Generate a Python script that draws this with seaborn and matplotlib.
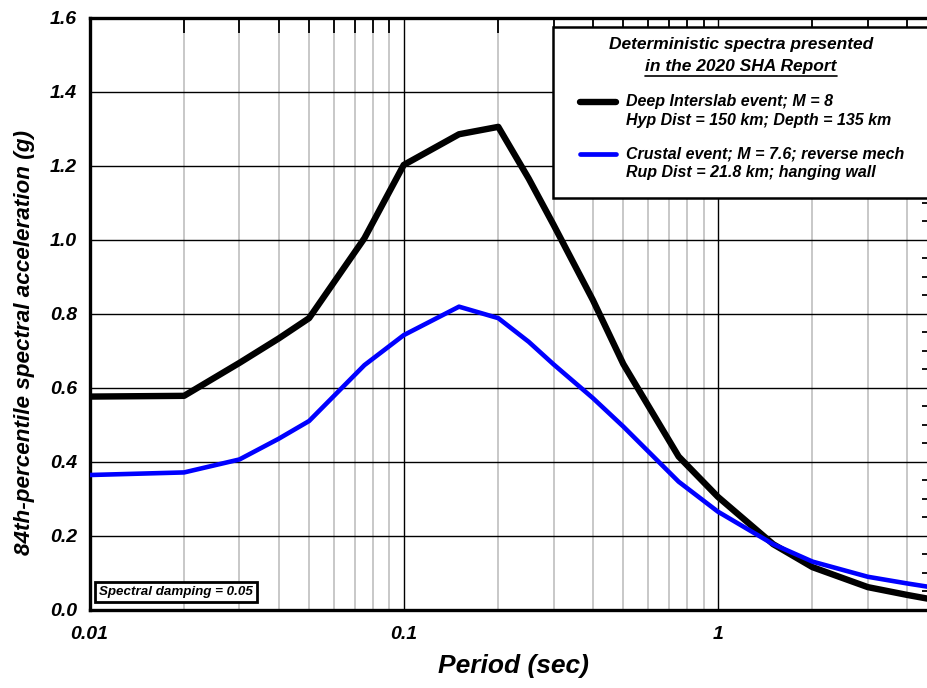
import numpy as np
import pandas as pd
import matplotlib
matplotlib.use("Agg")
import matplotlib.pyplot as plt
import seaborn as sns
from matplotlib.lines import Line2D
from matplotlib.patches import Rectangle
from matplotlib.ticker import FixedLocator, NullFormatter, MultipleLocator

sns.set_style("white")
plt.rcParams['font.family'] = ['Liberation Sans', 'DejaVu Sans']
plt.rcParams['font.weight'] = 'bold'
plt.rcParams['font.style'] = 'italic'
for k in ['text.color', 'axes.labelcolor', 'xtick.color', 'ytick.color']:
    plt.rcParams[k] = 'black'

# ============================================================
# data
# ============================================================
period = [0.01, 0.02, 0.03, 0.04, 0.05, 0.075, 0.1, 0.15, 0.2, 0.25,
          0.3, 0.4, 0.5, 0.75, 1.0, 1.5, 2.0, 3.0, 4.0, 5.0]
sa_interslab = [0.576, 0.578, 0.667, 0.733, 0.788, 1.004, 1.202, 1.285, 1.305, 1.165,
                1.040, 0.837, 0.664, 0.414, 0.305, 0.177, 0.115, 0.061, 0.040, 0.025]
sa_crustal = [0.364, 0.371, 0.406, 0.462, 0.510, 0.661, 0.742, 0.819, 0.788, 0.724,
              0.663, 0.572, 0.495, 0.346, 0.265, 0.177, 0.130, 0.089, 0.071, 0.058]

lbl_interslab = ["Deep Interslab event; M = 8", "Hyp Dist = 150 km; Depth = 135 km"]
lbl_crustal = ["Crustal event; M = 7.6; reverse mech", "Rup Dist = 21.8 km; hanging wall"]
legend_title = ["Deterministic spectra presented", "in the 2020 SHA Report"]

x_ticks = [0.01, 0.1, 1]
x_ticklabels = ['0.01', '0.1', '1']
y_ticks = [0.0, 0.2, 0.4, 0.6, 0.8, 1.0, 1.2, 1.4, 1.6]
y_ticklabels = ['0.0', '0.2', '0.4', '0.6', '0.8', '1.0', '1.2', '1.4', '1.6']

df = pd.DataFrame({
    'period': period * 2,
    'sa': sa_interslab + sa_crustal,
    'event': ['interslab'] * len(period) + ['crustal'] * len(period),
})

# ============================================================
# plot
# ============================================================
fig = plt.figure(figsize=(9.27, 6.88), dpi=100)
ax = fig.add_axes([89.5 / 927, 78.3 / 688, 848 / 927, 592 / 688])

sns.lineplot(data=df, x='period', y='sa', hue='event',
             palette={'interslab': 'black', 'crustal': '#0000ff'},
             size='event', sizes={'interslab': 4.6, 'crustal': 3.3},
             legend=False, ax=ax, zorder=5)

ax.set_xscale('log')
ax.set_xlim(0.01, 5)
ax.set_ylim(0, 1.6)

ax.xaxis.set_major_locator(FixedLocator(x_ticks))
ax.set_xticklabels(x_ticklabels)
minors = [m * d for d in [0.01, 0.1, 1] for m in range(2, 10)]
ax.xaxis.set_minor_locator(FixedLocator(minors))
ax.xaxis.set_minor_formatter(NullFormatter())
ax.yaxis.set_major_locator(FixedLocator(y_ticks))
ax.set_yticklabels(y_ticklabels)
ax.yaxis.set_minor_locator(MultipleLocator(0.05))

ax.grid(which='major', axis='both', color='black', lw=1.0, zorder=1)
ax.grid(which='minor', axis='x', color='#c4c4c4', lw=1.3, zorder=0)

ax.tick_params(which='both', direction='in', top=True, right=True, labelsize=14)
ax.tick_params(axis='x', which='major', pad=12)
ax.tick_params(axis='y', which='major', pad=9)
ax.tick_params(which='major', length=0, width=1.5)
ax.tick_params(which='minor', length=11, width=1.3, color='black')
for s in ax.spines.values():
    s.set_linewidth(2.4)
    s.set_color('black')

ax.set_xlabel('Period (sec)', fontsize=19, fontweight='bold', fontstyle='italic', labelpad=8)
ax.set_ylabel('84th-percentile spectral acceleration (g)', fontsize=16.2,
              fontweight='bold', fontstyle='italic')
ax.yaxis.set_label_coords(-0.0643, 0.452)


def ax_y(px):
    # pixel row of the reference -> axes fraction
    return (609.7 - px) / 592


def ax_x(px):
    return (px - 89.5) / 848


# legend box
box = Rectangle((ax_x(553), ax_y(198)), 0.6, (198 - 27) / 592, transform=ax.transAxes,
                facecolor='white', edgecolor='black', lw=1.8, zorder=8, clip_on=False)
ax.add_patch(box)
cx = ax_x(741)
ax.text(cx, ax_y(45), legend_title[0], transform=ax.transAxes,
        ha='center', va='center', fontsize=12.5, fontweight='bold', zorder=9)
t2 = ax.text(cx, ax_y(67), legend_title[1], transform=ax.transAxes,
             ha='center', va='center', fontsize=12.5, fontweight='bold', zorder=9)

for (l1, l2), col, lw, ytop in [(lbl_interslab, 'black', 4.6, 102),
                                (lbl_crustal, '#0000ff', 3.4, 154)]:
    ax.add_line(Line2D([ax_x(580), ax_x(616)], [ax_y(ytop), ax_y(ytop)], color=col, lw=lw,
                       solid_capstyle='round', transform=ax.transAxes, zorder=10,
                       clip_on=False))
    ax.text(ax_x(626), ax_y(ytop), l1, transform=ax.transAxes, ha='left', va='center',
            fontsize=11.5, fontweight='bold', zorder=10)
    ax.text(ax_x(626), ax_y(ytop + 19), l2, transform=ax.transAxes, ha='left', va='center',
            fontsize=11.5, fontweight='bold', zorder=10)

# spectral damping note
ax.text(ax_x(99), ax_y(592), 'Spectral damping = 0.05', transform=ax.transAxes,
        ha='left', va='center', fontsize=9.6, fontweight='bold', zorder=9,
        bbox=dict(boxstyle='square,pad=0.3', fc='white', ec='black', lw=2.0))

# underline the second title line
fig.canvas.draw()
bb = t2.get_window_extent().transformed(ax.transAxes.inverted())
ax.add_line(Line2D([bb.x0, bb.x1], [bb.y0 - 0.002, bb.y0 - 0.002], color='black', lw=1.2,
                   transform=ax.transAxes, zorder=9, clip_on=False))

plt.savefig('out.png', dpi=100)
